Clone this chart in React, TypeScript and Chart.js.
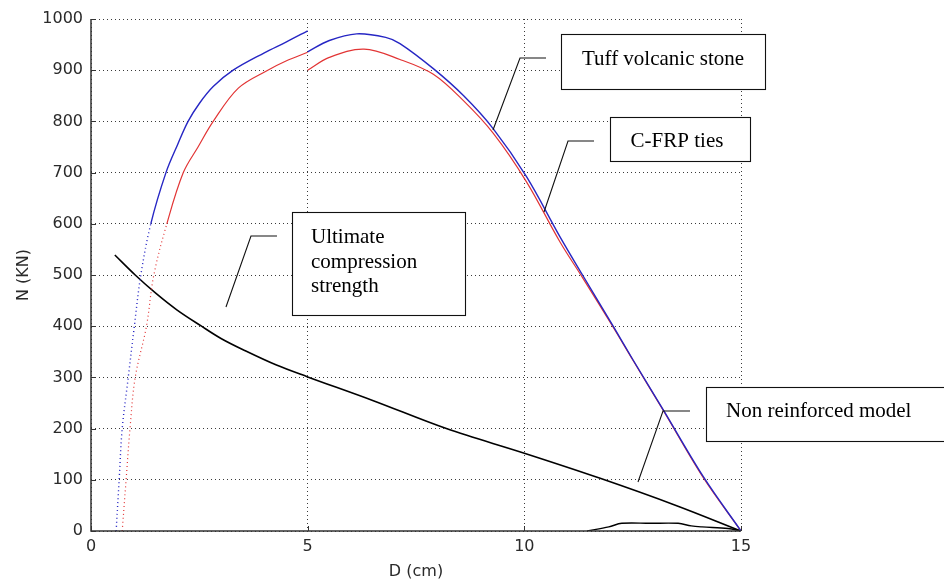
import React, { useEffect, useRef } from "react";
import { Chart, registerables } from "chart.js";

Chart.register(...registerables);

// ---- Data ----
// Tuff volcanic stone (blue), two branches split at D = 5 cm
const tuffD1 = [0.58, 0.65, 0.72, 0.86, 1.0, 1.15, 1.38, 1.73, 2.0, 2.24, 2.5, 2.82, 3.28, 4.0, 4.5, 5.0];
const tuffN1 = [0, 100, 200, 300, 400, 500, 600, 700, 755, 800, 835, 868, 900, 934, 955, 977];
const tuffD2 = [5.0, 5.5, 6.13, 6.8, 7.13, 7.9, 8.6, 9.28, 10.05, 10.82, 11.35, 12.05, 12.51, 13.21, 14.13, 15.0];
const tuffN2 = [936, 958, 971, 964, 952, 903, 850, 786, 692, 575, 499, 400, 334, 236, 106, 0];

// C-FRP ties (red)
const frpD1 = [0.72, 0.81, 0.9, 1.02, 1.28, 1.45, 1.75, 2.13, 2.47, 2.82, 3.4, 4.08, 4.5, 5.0];
const frpN1 = [0, 100, 200, 300, 400, 500, 600, 700, 750, 800, 865, 900, 918, 935];
const frpD2 = [5.0, 5.5, 6.3, 7.13, 7.9, 8.6, 9.28, 10.05, 10.82, 11.35, 12.05, 12.51, 13.21, 14.13, 15.0];
const frpN2 = [900, 925, 941, 921, 892, 840, 777, 682, 565, 494, 398, 333, 235, 104, 0];

// Ultimate compression strength (black)
const ultD = [0.55, 1.02, 1.5, 1.98, 2.55, 3.0, 3.51, 4.28, 5.0, 6.5, 8.2, 10.0, 11.75, 13.5, 15.0];
const ultN = [539, 500, 464, 432, 400, 376, 354, 324, 301, 255, 200, 152, 103, 50, 0];

// Non reinforced model (black, small bump near the axis)
const nonD = [11.45, 11.95, 12.25, 12.9, 13.55, 13.85, 14.1, 14.7, 15.0];
const nonN = [0, 8, 15, 15, 15, 10, 8, 5, 0];

// Tick labels
const xTickValues = [0, 5, 10, 15];
const yTickValues = [0, 100, 200, 300, 400, 500, 600, 700, 800, 900, 1000];

// Annotation labels (positions in data units)
type Note = {
  lines: string[];
  box: [number, number, number, number]; // x1, yTop, x2, yBottom
  textX: number;
  align: CanvasTextAlign;
  baselines: number[];
  leader: [number, number][];
};
const notes: Note[] = [
  {
    lines: ["Tuff volcanic stone"],
    box: [10.846, 970.7, 15.554, 863.3],
    textX: 13.2,
    align: "center",
    baselines: [910.2],
    leader: [[10.5, 923.8], [9.9, 923.8], [9.277, 783.2]],
  },
  {
    lines: ["C-FRP ties"],
    box: [11.977, 808.6, 15.208, 722.7],
    textX: 13.523,
    align: "center",
    baselines: [750],
    leader: [[11.608, 761.7], [11.008, 761.7], [10.454, 623]],
  },
  {
    lines: ["Ultimate", "compression", "strength"],
    box: [4.638, 623, 8.631, 421.9],
    textX: 5.077,
    align: "left",
    baselines: [562.5, 513.7, 466.8],
    leader: [[4.292, 576.2], [3.692, 576.2], [3.115, 437.5]],
  },
  {
    lines: ["Non reinforced model"],
    box: [14.192, 281.25, 19.9, 175.8],
    textX: 14.654,
    align: "left",
    baselines: [222.7],
    leader: [[13.823, 234.4], [13.2, 234.4], [12.623, 95.7]],
  },
];

const toPoints = (xs: number[], ys: number[]) => xs.map((x, i) => ({ x, y: ys[i] }));

const BLUE = "#2626c4";
const RED = "#e23434";
const BLACK = "#000000";
const AXIS = "#333333";
const TICK_FONT = { family: '"DejaVu Sans", sans-serif', size: 16 };

const notesPlugin = {
  id: "notesPlugin",
  afterDraw(chart: any) {
    const { ctx, chartArea } = chart;
    const xs = chart.scales.x;
    const ys = chart.scales.y;
    const px = (v: number) => xs.getPixelForValue(v);
    const py = (v: number) => ys.getPixelForValue(v);
    ctx.save();
    // solid axis lines (left and bottom)
    ctx.strokeStyle = AXIS;
    ctx.lineWidth = 1.5;
    ctx.beginPath();
    ctx.moveTo(chartArea.left, chartArea.top);
    ctx.lineTo(chartArea.left, chartArea.bottom);
    ctx.lineTo(chartArea.right, chartArea.bottom);
    ctx.stroke();
    // inward tick marks
    ctx.lineWidth = 1;
    for (const t of yTickValues) {
      const yy = Math.round(py(t)) + 0.5;
      ctx.beginPath();
      ctx.moveTo(chartArea.left, yy);
      ctx.lineTo(chartArea.left + 5, yy);
      ctx.stroke();
    }
    for (const t of xTickValues) {
      const xx = Math.round(px(t)) + 0.5;
      ctx.beginPath();
      ctx.moveTo(xx, chartArea.bottom);
      ctx.lineTo(xx, chartArea.bottom - 5);
      ctx.stroke();
    }
    // annotation boxes + leader lines
    ctx.font = '21px "Liberation Serif", "Times New Roman", serif';
    ctx.textBaseline = "alphabetic";
    for (const n of notes) {
      ctx.strokeStyle = "#111";
      ctx.lineWidth = 1.1;
      ctx.beginPath();
      n.leader.forEach(([lx, ly], i) => {
        if (i === 0) ctx.moveTo(px(lx), py(ly));
        else ctx.lineTo(px(lx), py(ly));
      });
      ctx.stroke();
      const x1 = Math.round(px(n.box[0])) + 0.5;
      const y1 = Math.round(py(n.box[1])) + 0.5;
      const x2 = Math.round(px(n.box[2])) + 0.5;
      const y2 = Math.round(py(n.box[3])) + 0.5;
      ctx.fillStyle = "#ffffff";
      ctx.fillRect(x1, y1, x2 - x1, y2 - y1);
      ctx.strokeRect(x1, y1, x2 - x1, y2 - y1);
      ctx.fillStyle = "#000";
      ctx.textAlign = n.align;
      n.lines.forEach((line, i) => {
        ctx.fillText(line, px(n.textX), py(n.baselines[i]));
      });
    }
    ctx.restore();
  },
};

export default function App() {
  const canvasRef = useRef<HTMLCanvasElement | null>(null);

  useEffect(() => {
    if (!canvasRef.current) return;
    const dotted = (limit: number) => (ctx: any) => (ctx.p0DataIndex < limit ? [1, 3] : undefined);
    const common = {
      showLine: true,
      pointRadius: 0,
      pointHoverRadius: 0,
      tension: 0.35,
      fill: false,
    };
    const chart = new Chart(canvasRef.current, {
      type: "scatter",
      data: {
        datasets: [
          { ...common, label: "Tuff volcanic stone", data: toPoints(tuffD1, tuffN1), borderColor: BLUE, borderWidth: 1.4, segment: { borderDash: dotted(6) } },
          { ...common, label: "Tuff volcanic stone (2)", data: toPoints(tuffD2, tuffN2), borderColor: BLUE, borderWidth: 1.4 },
          { ...common, label: "C-FRP ties", data: toPoints(frpD1, frpN1), borderColor: RED, borderWidth: 1.2, segment: { borderDash: dotted(6) } },
          { ...common, label: "C-FRP ties (2)", data: toPoints(frpD2, frpN2), borderColor: RED, borderWidth: 1.2 },
          { ...common, label: "Ultimate compression strength", data: toPoints(ultD, ultN), borderColor: BLACK, borderWidth: 1.6 },
          { ...common, label: "Non reinforced model", data: toPoints(nonD, nonN), borderColor: BLACK, borderWidth: 1.4 },
        ],
      },
      options: {
        responsive: false,
        animation: false,
        devicePixelRatio: 1,
        layout: { padding: { left: 0, top: 19, right: 203, bottom: 0 } },
        plugins: {
          legend: { display: false },
          tooltip: { enabled: false },
        },
        scales: {
          x: {
            type: "linear",
            min: 0,
            max: 15,
            afterBuildTicks: (s: any) => {
              s.ticks = xTickValues.map((v) => ({ value: v }));
            },
            afterFit: (s: any) => {
              s.height = 53;
            },
            grid: { color: "#3a3a3a", lineWidth: 1, drawTicks: false },
            border: { display: false, dash: [1, 3] },
            ticks: {
              padding: 6,
              color: "#2a2a2a",
              font: TICK_FONT,
              maxRotation: 0,
              callback: (v: any) => String(v),
            },
            title: {
              display: true,
              text: "D (cm)",
              color: "#2a2a2a",
              font: TICK_FONT,
              padding: { top: 0, bottom: 3 },
            },
          },
          y: {
            type: "linear",
            min: 0,
            max: 1000,
            afterBuildTicks: (s: any) => {
              s.ticks = yTickValues.map((v) => ({ value: v }));
            },
            afterFit: (s: any) => {
              s.width = 91;
            },
            grid: { color: "#3a3a3a", lineWidth: 1, drawTicks: false },
            border: { display: false, dash: [1, 3] },
            ticks: {
              padding: 8,
              color: "#2a2a2a",
              font: TICK_FONT,
              callback: (v: any) => String(v),
            },
            title: {
              display: true,
              text: "N (KN)",
              color: "#2a2a2a",
              font: TICK_FONT,
              padding: { top: 14, bottom: 0 },
            },
          },
        },
      },
      plugins: [notesPlugin],
    } as any);
    return () => chart.destroy();
  }, []);

  return (
    <div style={{ position: "fixed", left: 0, top: 0, width: 944, height: 584, background: "#ffffff" }}>
      <canvas ref={canvasRef} width={944} height={584} style={{ display: "block" }} />
    </div>
  );
}
